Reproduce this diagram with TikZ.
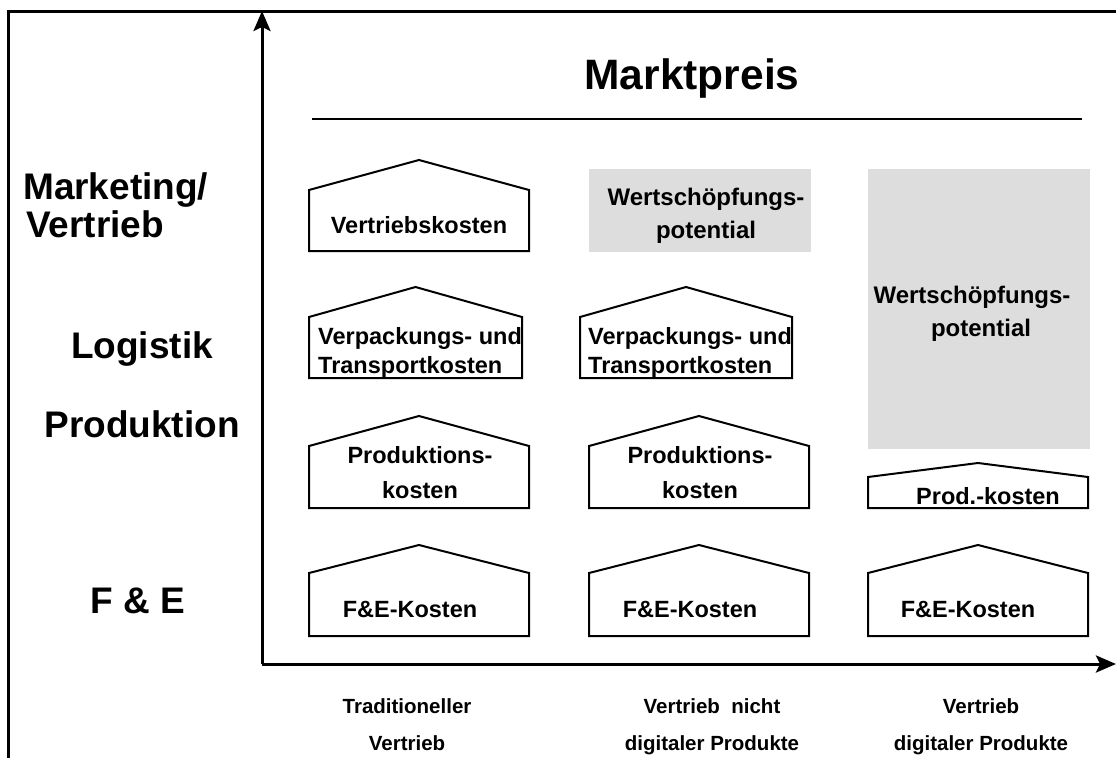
\documentclass[tikz,border=0pt]{standalone}
\usepackage{fontspec}
\setmainfont{Liberation Sans}
\usetikzlibrary{arrows.meta}
\definecolor{potgray}{HTML}{DDDDDD}
% house outline: left x, right x, ridge y, eave y, floor y
\newcommand{\drawhouse}[5]{%
  \draw[houseline] (#1,#5) -- (#1,#4) -- ({(#1+#2)/2},#3) -- (#2,#4) -- (#2,#5) -- cycle;}
\begin{document}
\begin{tikzpicture}[x=1pt,y=-1pt,
  houseline/.style={line width=2pt, line join=miter},
  axisline/.style={line width=3pt, -{Stealth[length=20pt,width=17pt,inset=4pt]}},
  rowlabel/.style={font=\fontsize{37}{40}\selectfont\bfseries, inner sep=0pt, anchor=base},
  costlabel/.style={font=\fontsize{23.5}{29}\selectfont\bfseries, inner sep=0pt, anchor=base, align=center},
  collabel/.style={font=\fontsize{20.5}{37}\selectfont\bfseries, inner sep=0pt, anchor=base, align=center},
  potbox/.style={fill=potgray, draw=none}]
\useasboundingbox (0,0) rectangle (1116,758);

% frame
\draw[line width=3pt] (8,758) -- (8,11) -- (1116,11);

% axes
\coordinate (origin) at (262,664);
\coordinate (ytop) at (262,11);
\coordinate (xend) at (1116,664);
\draw[axisline] (origin) -- (ytop);
\draw[axisline] (origin) -- (xend);

% title and rule
\node[font=\fontsize{42.5}{46}\selectfont\bfseries, inner sep=0pt, anchor=base] (title) at (692,89) {Marktpreis};
\coordinate (ruleL) at (312,119);
\coordinate (ruleR) at (1082,119);
\draw[line width=2.5pt] (ruleL) -- (ruleR);

% row labels (multi-line nodes are anchored at the last baseline)
\node[rowlabel, anchor=base west, align=left, font=\fontsize{37}{38}\selectfont\bfseries] (mkt) at (23,237) {Marketing/\\\hspace*{3pt}Vertrieb};
\node[rowlabel] (log) at (142,358) {Logistik};
\node[rowlabel] (prod) at (142,437) {Produktion};
\node[rowlabel] (fe) at (138,613) {F \& E};

% value-creation potential areas
\fill[potbox] (589,169) rectangle (811,252);
\fill[potbox] (868,169) rectangle (1090,449);
\node[costlabel, font=\fontsize{24}{33}\selectfont\bfseries] (pot1) at (706,238) {Wertschöpfungs-\\potential};
\node[costlabel, font=\fontsize{24}{33}\selectfont\bfseries] (pot2) at (972,336) {Wertschöpfungs-\\\hspace*{18pt}potential};

% marketing / sales
\drawhouse{309}{529}{160}{190}{251}
\node[costlabel] (vk) at (419,233) {Vertriebskosten};

% logistics
\drawhouse{309}{522}{287}{317}{378}
\drawhouse{580}{792}{287}{317}{378}
\node[costlabel, anchor=base west, align=left] (lk1) at (318,373) {Verpackungs- und\\Transportkosten};
\node[costlabel, anchor=base west, align=left] (lk2) at (588,373) {Verpackungs- und\\Transportkosten};

% production
\drawhouse{309}{529}{416}{446}{508}
\drawhouse{589}{809}{416}{446}{508}
\drawhouse{868}{1088}{463}{477}{508}
\node[costlabel, font=\fontsize{23.5}{35}\selectfont\bfseries] (pk1) at (420,498) {Produktions-\\kosten};
\node[costlabel, font=\fontsize{23.5}{35}\selectfont\bfseries] (pk2) at (700,498) {Produktions-\\kosten};
\node[costlabel] (pk3) at (988,504) {Prod.-kosten};

% research and development
\drawhouse{309}{529}{545}{573}{636}
\drawhouse{589}{809}{545}{573}{636}
\drawhouse{868}{1088}{545}{573}{636}
\node[costlabel] (fk1) at (410,617) {F\&E-Kosten};
\node[costlabel] (fk2) at (690,617) {F\&E-Kosten};
\node[costlabel] (fk3) at (968,617) {F\&E-Kosten};

% distribution channels
\node[collabel] (ch1) at (407,750) {Traditioneller\\Vertrieb};
\node[collabel] (ch2) at (712,750) {Vertrieb\ \ nicht\\digitaler Produkte};
\node[collabel] (ch3) at (981,750) {Vertrieb\\digitaler Produkte};
\end{tikzpicture}
\end{document}
